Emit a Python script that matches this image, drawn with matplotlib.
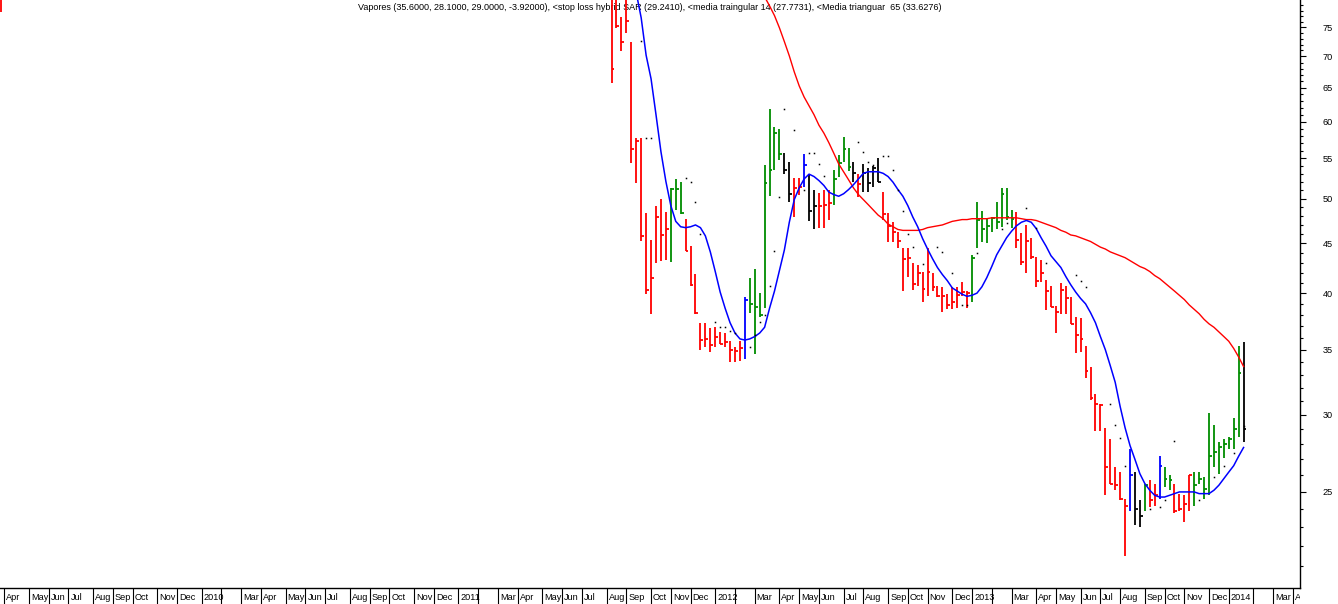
"""Weekly bar chart of Vapores with SAR stops and two triangular moving averages."""

import matplotlib

matplotlib.use("Agg")

import matplotlib.pyplot as plt
import matplotlib.dates as mdates
import matplotlib.transforms as mtransforms
import numpy as np
import pandas as pd
from matplotlib.ticker import FixedLocator, NullFormatter

nan = np.nan

# weekly bars, first bar dated 2011-08-12 (earlier bars sit above the visible range)
first_week = "2011-08-12"

high = [
    85.0, 84.0, 76.8, 82.0, 72.4, 57.7, 57.7, 48.4, 45.4, 49.1,
    50.0, 48.5, 51.3, 52.4, 52.0, 47.7, 44.7, 41.9, 37.3, 37.3,
    36.8, 36.9, 36.5, 36.4, 35.7, 35.2, 35.7, 39.6, 41.5, 42.4,
    40.0, 54.2, 61.8, 59.3, 59.0, 55.7, 54.6, 52.5, 52.5, 55.6,
    53.0, 51.1, 50.7, 51.1, 51.1, 53.5, 55.5, 57.9, 56.4, 54.6,
    53.0, 54.3, 53.8, 54.0, 55.1, 50.8, 48.4, 47.3, 46.2, 44.5,
    44.5, 43.0, 42.8, 42.1, 44.5, 42.0, 40.7, 40.6, 39.9, 40.6,
    40.6, 41.1, 40.2, 43.8, 49.6, 48.6, 47.8, 47.9, 49.6, 51.3,
    51.3, 48.7, 48.5, 46.1, 47.0, 45.6, 43.6, 43.3, 41.3, 40.7,
    38.8, 41.0, 40.7, 39.6, 37.8, 37.7, 35.3, 33.6, 31.5, 30.8,
    29.1, 28.3, 26.5, 26.2, 24.6, 27.7, 26.2, 24.5, 25.5, 25.7,
    25.5, 27.2, 26.5, 26.0, 25.5, 24.9, 24.8, 26.0, 26.2, 26.2,
    25.9, 30.1, 29.3, 28.1, 28.3, 28.5, 29.8, 35.3, 35.6,
]
low = [
    65.7, 74.9, 70.9, 74.0, 54.4, 51.9, 45.3, 39.9, 38.1, 43.0,
    43.2, 43.3, 43.1, 48.7, 48.2, 44.2, 40.7, 38.1, 35.0, 35.2,
    34.8, 35.2, 35.5, 35.2, 34.0, 34.0, 34.1, 34.2, 38.2, 34.6,
    37.8, 38.6, 50.3, 53.5, 54.8, 53.0, 49.6, 47.9, 50.4, 51.4,
    47.4, 46.5, 46.7, 46.7, 47.5, 49.3, 52.6, 54.5, 53.4, 52.0,
    50.2, 50.8, 50.8, 51.4, 52.0, 47.5, 45.1, 45.1, 44.5, 40.2,
    41.6, 40.3, 40.7, 39.2, 39.7, 40.2, 39.6, 38.3, 38.5, 38.5,
    38.6, 39.7, 38.6, 39.2, 44.5, 45.1, 45.0, 46.2, 46.5, 46.8,
    47.5, 46.7, 44.5, 42.8, 42.0, 43.4, 40.6, 41.1, 38.4, 38.7,
    36.4, 38.1, 38.1, 37.2, 34.7, 34.8, 32.7, 31.1, 28.9, 28.9,
    24.8, 25.5, 25.1, 24.5, 21.5, 23.9, 23.1, 23.0, 23.9, 24.1,
    24.2, 24.6, 25.3, 25.1, 23.8, 23.9, 23.3, 23.9, 24.2, 25.5,
    24.6, 24.8, 26.5, 26.1, 27.1, 27.7, 27.7, 28.5, 28.1,
]
close = [
    68.0, 75.2, 72.4, 76.1, 56.2, 57.3, 45.8, 40.3, 41.5, 47.9,
    45.9, 46.6, 51.2, 51.2, 48.4, 44.2, 40.8, 38.2, 35.8, 35.9,
    35.4, 36.1, 35.5, 35.6, 35.0, 34.9, 35.1, 39.4, 39.0, 38.7,
    38.0, 51.9, 53.5, 58.4, 55.6, 53.5, 50.6, 51.3, 51.4, 54.2,
    48.6, 49.2, 49.1, 49.3, 49.5, 52.4, 54.4, 56.3, 53.9, 53.2,
    51.8, 53.1, 51.9, 53.8, 52.0, 48.2, 46.9, 46.2, 45.3, 43.4,
    43.5, 40.9, 42.0, 40.4, 42.1, 40.6, 39.7, 39.7, 38.9, 39.2,
    39.8, 40.1, 40.0, 43.5, 47.6, 46.6, 46.9, 47.8, 47.3, 50.6,
    47.9, 47.7, 45.4, 43.1, 45.3, 43.6, 41.2, 42.0, 40.2, 38.7,
    38.3, 40.3, 39.5, 37.2, 36.2, 35.9, 33.3, 31.2, 30.8, 30.7,
    26.5, 25.5, 25.4, 24.6, 24.2, 26.0, 24.0, 23.6, 25.4, 24.5,
    24.8, 26.6, 25.8, 25.7, 23.9, 24.0, 24.3, 26.0, 25.4, 25.8,
    25.2, 27.2, 27.5, 27.8, 28.0, 28.3, 29.0, 33.1, 29.0,
]
# bar colours as runs of (colour code, number of consecutive bars)
color_runs = [
    ("r", 12), ("g", 3), ("r", 12), ("b", 1), ("g", 7), ("k", 2), ("r", 2),
    ("b", 1), ("k", 2), ("r", 3), ("g", 4), ("k", 1), ("r", 1), ("k", 4),
    ("r", 18), ("g", 9), ("r", 23), ("b", 1), ("k", 2), ("g", 1), ("r", 2),
    ("b", 1), ("g", 2), ("r", 4), ("g", 10), ("k", 1),
]

# one bar cut by the left edge, from the long history above the chart
edge_date = "2009-03-29"
edge_high, edge_low = 90.0, 77.8

# stop loss hybrid SAR, one dot per bar (nan where no dot is visible)
sar = [
    nan, nan, nan, nan, nan, nan, 72.6, 57.7, 57.7, nan,
    nan, nan, nan, nan, nan, 52.5, 52.0, 49.6, 46.0, nan,
    nan, 37.4, 36.9, 36.9, 36.6, 36.4, nan, nan, 35.2, 36.2,
    37.4, 38.0, 40.7, 44.2, 50.2, 61.8, nan, 58.8, nan, 51.1,
    55.7, 55.7, 54.3, 52.8, nan, nan, nan, nan, nan, nan,
    57.2, 55.9, 54.6, 54.2, nan, 55.3, 55.3, 53.5, 51.0, 48.6,
    46.0, 44.6, nan, 42.9, nan, nan, 44.6, 44.1, nan, 42.0,
    nan, 38.9, 38.9, nan, 44.0, nan, nan, nan, nan, 46.5,
    47.2, nan, nan, nan, 48.9, nan, 46.7, nan, 43.0, nan,
    nan, nan, nan, nan, 41.8, 41.2, 40.6, nan, nan, nan,
    nan, 30.8, 29.3, 28.4, 26.6, nan, nan, nan, nan, 24.0,
    nan, 24.1, 24.5, nan, 28.2, nan, nan, nan, nan, 24.5,
    nan, nan, 25.9, nan, 26.6, nan, 27.4, nan, 29.2,
]

# media triangular 14 (blue)
tma14 = [
    nan, nan, nan, nan, nan, 81.4, 76.7, 70.2, 66.4, 61.0,
    55.9, 52.1, 49.2, 47.4, 46.8, 46.7, 46.8, 47.0, 46.7, 45.8,
    44.1, 42.1, 40.1, 38.6, 37.3, 36.4, 35.9, 35.8, 35.9, 36.1,
    36.4, 36.9, 38.6, 40.2, 42.2, 44.3, 47.3, 49.9, 51.3, 52.4,
    53.0, 52.7, 52.2, 51.6, 50.8, 50.5, 50.3, 50.6, 51.1, 51.7,
    52.4, 53.1, 53.3, 53.3, 53.3, 53.1, 52.7, 52.0, 51.1, 50.3,
    49.2, 47.9, 46.8, 45.5, 44.4, 43.4, 42.5, 41.8, 41.2, 40.5,
    40.2, 39.9, 39.7, 39.8, 40.0, 40.6, 41.5, 42.6, 43.8, 44.7,
    45.6, 46.3, 46.9, 47.3, 47.5, 47.3, 46.6, 45.6, 44.7, 43.7,
    43.1, 42.5, 41.6, 40.8, 40.1, 39.5, 39.0, 38.2, 37.3, 36.1,
    35.0, 33.7, 32.4, 30.6, 29.1, 27.9, 27.0, 26.1, 25.5, 25.1,
    24.8, 24.7, 24.7, 24.8, 24.9, 25.0, 25.0, 25.0, 25.0, 24.9,
    24.9, 24.9, 25.1, 25.4, 25.8, 26.2, 26.6, 27.2, 27.77,
]

# media triangular 65 (red)
tma65 = [
    nan, nan, nan, nan, nan, nan, nan, nan, nan, nan,
    nan, nan, nan, nan, nan, nan, nan, nan, nan, nan,
    nan, nan, nan, nan, nan, nan, nan, nan, nan, nan,
    nan, 80.6, 78.9, 77.1, 74.9, 72.5, 70.1, 67.5, 65.3, 63.6,
    62.3, 61.0, 59.5, 58.4, 57.1, 55.7, 54.3, 53.3, 52.3, 51.3,
    50.5, 49.9, 49.3, 48.7, 48.1, 47.7, 47.1, 46.8, 46.5, 46.4,
    46.4, 46.4, 46.4, 46.5, 46.7, 46.8, 46.9, 47.0, 47.2, 47.4,
    47.5, 47.6, 47.6, 47.7, 47.7, 47.7, 47.7, 47.8, 47.8, 47.8,
    47.8, 47.8, 47.8, 47.7, 47.6, 47.6, 47.5, 47.3, 47.1, 46.9,
    46.7, 46.4, 46.2, 45.9, 45.8, 45.6, 45.4, 45.2, 44.9, 44.6,
    44.4, 44.1, 43.9, 43.7, 43.5, 43.2, 42.9, 42.6, 42.4, 42.1,
    41.7, 41.4, 41.0, 40.6, 40.2, 39.8, 39.4, 38.9, 38.5, 38.1,
    37.6, 37.2, 36.9, 36.5, 36.1, 35.7, 35.1, 34.4, 33.63,
]

title = (
    "Vapores (35.6000, 28.1000, 29.0000, -3.92000), <stop loss hybrid SAR (29.2410), "
    "<media traingular 14 (27.7731), <Media trianguar  65 (33.6276)"
)
month_names = ["", "", "Mar", "Apr", "May", "Jun", "Jul", "Aug", "Sep", "Oct", "Nov", "Dec"]

colors = {"r": "#ff0000", "g": "#008c00", "k": "#000000", "b": "#0000ff"}

plt.rcParams["font.family"] = ["Liberation Sans", "DejaVu Sans"]

W, H = 1338, 604
fig = plt.figure(figsize=(W / 100, H / 100), dpi=100)
ax = fig.add_axes([0, 16 / H, 1300 / W, 588 / H])

dates = pd.date_range(first_week, periods=len(high), freq="W-FRI")
x = mdates.date2num(dates)
cols = [colors[c] for c, n in color_runs for _ in range(n)]
assert len(cols) == len(x)

ax.vlines(x, low, high, colors=cols, linewidth=1.3, zorder=3)
ax.hlines(close, x, x + 4.0, colors=cols, linewidth=1.3, zorder=3)
ax.vlines(mdates.date2num(pd.Timestamp(edge_date)), edge_low, edge_high,
          colors=colors["r"], linewidth=1.3, zorder=3)
ax.plot(x, tma65, color="#ff0000", linewidth=1.0, zorder=4)
ax.plot(x, tma14, color="#0000ff", linewidth=1.1, zorder=4)
ax.plot(x, sar, linestyle="none", marker="s", markersize=1.1, color="black",
        markeredgewidth=0, zorder=5)

ax.text(0.5, 1 - 9.5 / 588, title, transform=ax.transAxes, ha="center",
        va="baseline", fontsize=6.5, zorder=1)

# axes ranges
ax.set_yscale("log")
ax.set_ylim(19.92, 80.0)
ax.set_xlim(mdates.date2num(pd.Timestamp("2009-03-28")),
            mdates.date2num(pd.Timestamp("2014-04-14")))

# price axis on the right
for side in ("left", "top"):
    ax.spines[side].set_visible(False)
for side in ("right", "bottom"):
    ax.spines[side].set_linewidth(1.0)
ax.yaxis.tick_right()
ax.yaxis.set_major_locator(FixedLocator(range(25, 80, 5)))
ax.yaxis.set_minor_locator(FixedLocator([v for v in range(20, 81) if v % 5]))
ax.yaxis.set_major_formatter(plt.FuncFormatter(lambda v, _: f"{v:.0f}"))
ax.yaxis.set_minor_formatter(NullFormatter())
ax.tick_params(axis="y", which="major", length=4.5, width=0.8, pad=12, labelsize=6.6)
ax.tick_params(axis="y", which="minor", length=2.5, width=0.8)

# month separators along the bottom: first weekly bar of each month
weeks = pd.date_range("2009-04-03", "2014-04-11", freq="W-FRI")
weeks = weeks[~((weeks.day == 1) & weeks.month.isin([1, 5]))]
firsts = pd.Series(weeks, index=weeks).groupby([weeks.year, weeks.month]).first()
ax.xaxis.set_major_locator(FixedLocator(mdates.date2num(firsts.values)))
ax.xaxis.set_major_formatter(NullFormatter())
ax.tick_params(axis="x", which="major", length=12, width=0.8, direction="out")

label_clip = mtransforms.TransformedBbox(
    mtransforms.Bbox([[0, 0], [1300 / W, 1]]), fig.transFigure)
trans = mtransforms.blended_transform_factory(ax.transData, fig.transFigure)
trans = mtransforms.offset_copy(trans, fig=fig, x=2.0, y=0, units="dots")
for day in firsts:
    name = str(day.year) if day.month == 1 else month_names[day.month - 1]
    if not name:
        continue
    t = ax.text(mdates.date2num(day), 3.5 / H, name, transform=trans,
                ha="left", va="baseline", fontsize=6.6, clip_on=True)
    t.set_clip_box(label_clip)

fig.savefig("out.png", dpi=100)
